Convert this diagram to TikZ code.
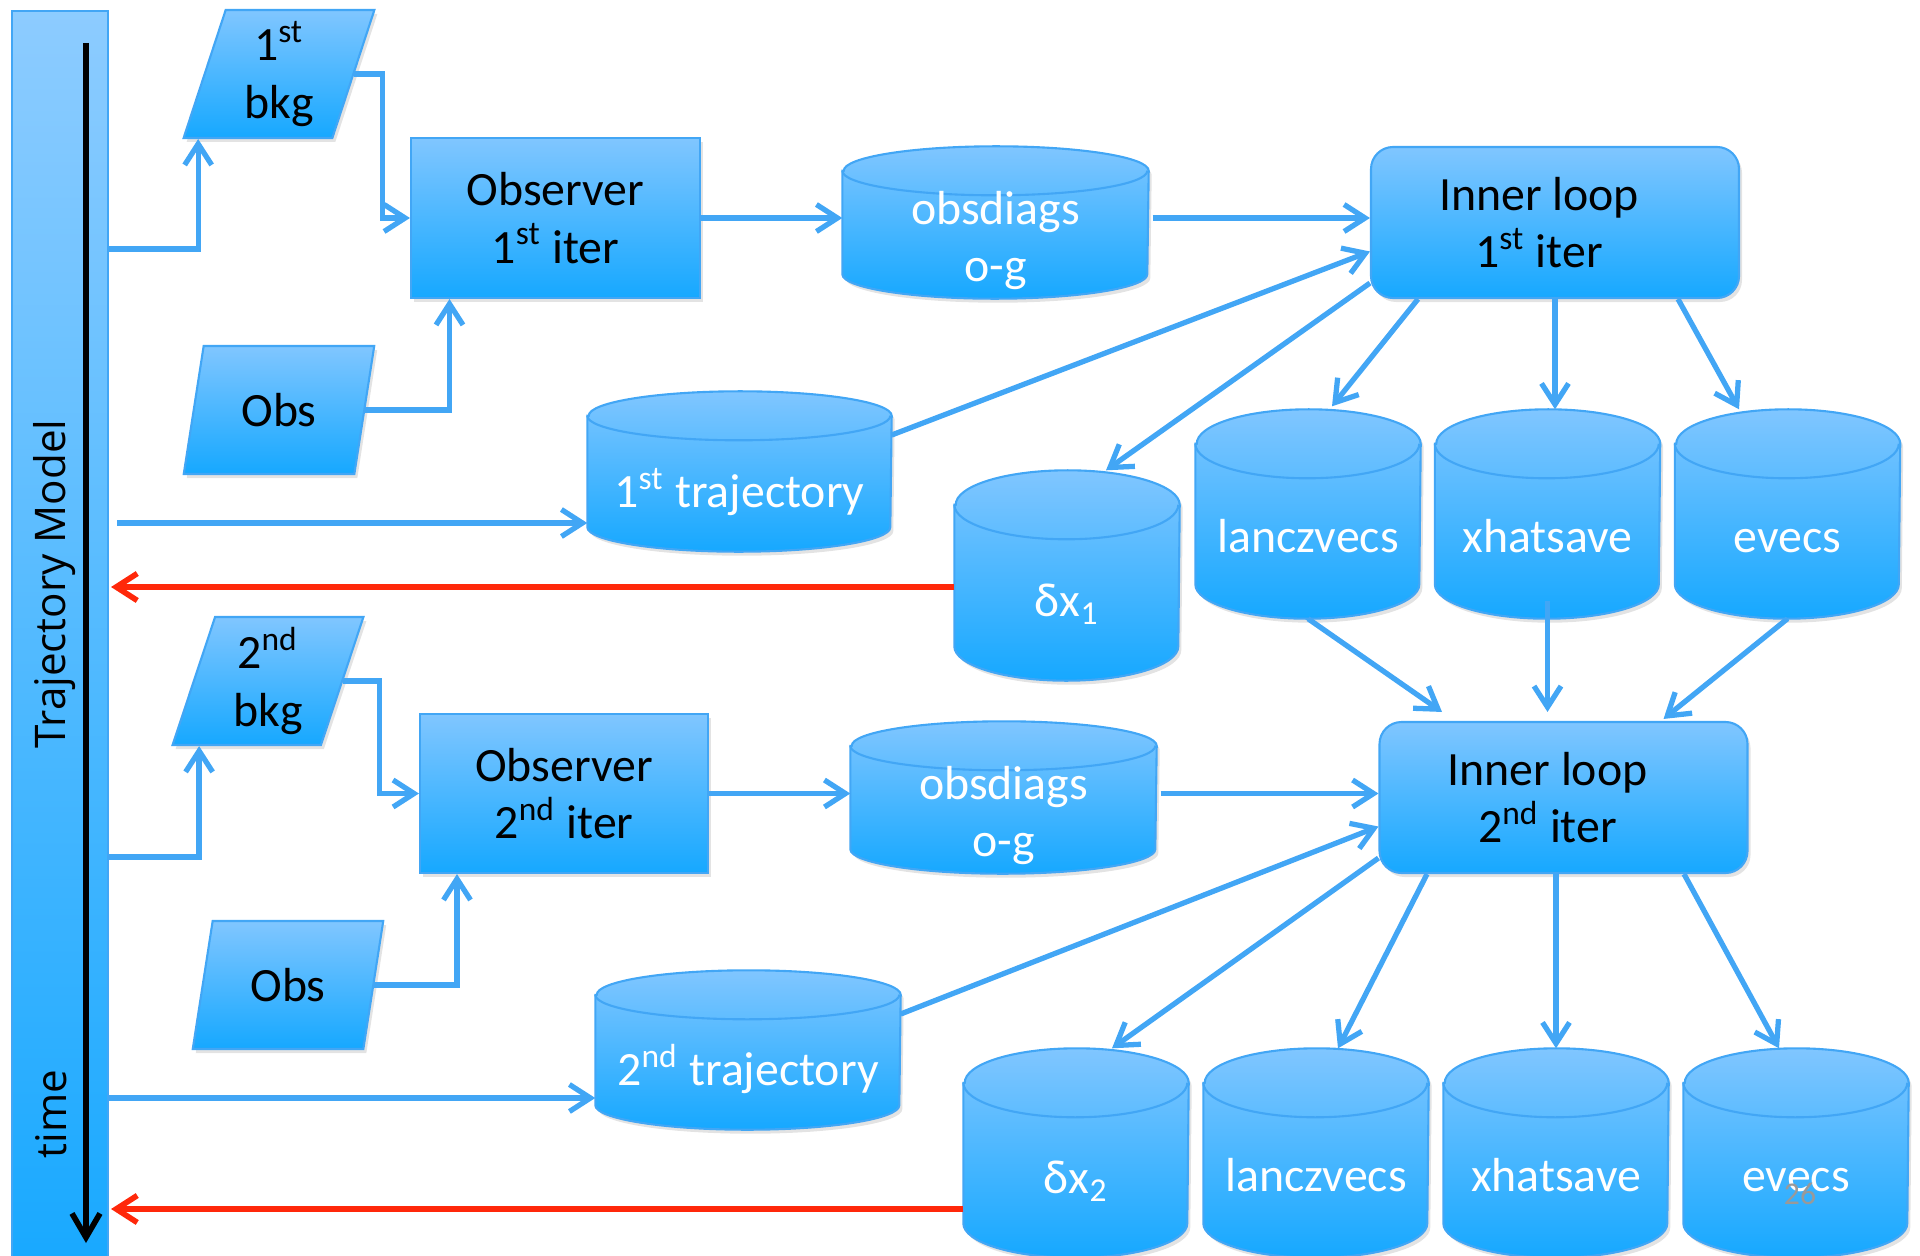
\documentclass[tikz,border=0pt]{standalone}
\usepackage{fontspec}
\setmainfont{Carlito}
\newfontfamily\axisfont{Open Sans}
\usepackage{tikz}
\usetikzlibrary{shapes.geometric,arrows.meta,shadows}

\definecolor{flowtop}{RGB}{128,198,255}
\definecolor{flowbot}{RGB}{22,168,255}
\definecolor{flowline}{RGB}{66,166,245}
\definecolor{backred}{RGB}{255,40,10}

% store drum drawn round a named box: #1 box, #2 half width, #3 end radius
\newcommand\drum[3]{%
  \path[shade] ([yshift=-#3]#1.north west) -- ([yshift=#3]#1.south west)
     arc[start angle=180, end angle=360, x radius=#2, y radius=#3]
     -- ([yshift=-#3]#1.north east)
     arc[start angle=0, end angle=180, x radius=#2, y radius=#3] -- cycle;
  \draw[draw=flowline, line width=0.6pt] ([yshift=-#3]#1.north west)
     arc[start angle=180, end angle=360, x radius=#2, y radius=#3];
}
% pushes a centred line a little to the left
\newcommand\lpad{\hspace*{0.32cm}}

\begin{document}
\begin{tikzpicture}[
    shade/.style={top color=flowtop, bottom color=flowbot, draw=flowline, line width=0.6pt,
        drop shadow={opacity=0.22, shadow xshift=0.03cm, shadow yshift=-0.04cm}},
    txt/.style={font=\fontsize{13.6}{16.4}\selectfont, align=center, inner sep=1pt},
    box/.style={shade, txt, rectangle, minimum width=2.89cm, minimum height=1.6cm},
    loopbox/.style={shade, txt, rectangle, rounded corners=0.22cm, minimum width=3.68cm, minimum height=1.51cm},
    inbox/.style={shade, txt, trapezium, trapezium left angle=75, trapezium right angle=105,
        trapezium stretches=true, minimum width=1.91cm, minimum height=1.28cm},
    store/.style={rectangle, inner sep=0pt},
    flat/.style={store, minimum width=3.05cm, minimum height=1.51cm},
    tall/.style={store, minimum width=2.24cm, minimum height=2.08cm},
    storetxt/.style={txt, text=white},
    oneline/.style={storetxt, text height=1.75ex, text depth=0.45ex},
    flow/.style={draw=flowline, line width=1.5pt, -{Straight Barb[length=2.1mm,width=2.7mm]}},
    back/.style={draw=backred, line width=1.6pt, -{Straight Barb[length=2.1mm,width=2.7mm]}}
]
\useasboundingbox (0,0) rectangle (19.2,-12.56);
\clip (0,0) rectangle (19.2,-12.56);

% trajectory model column
\node[top color=flowtop!90, bottom color=flowbot, draw=flowline, line width=0.6pt,
      minimum width=0.96cm, minimum height=12.8cm, inner sep=0pt] (model) at (0.60,-6.51) {};
\draw[line width=1.6pt, -{Straight Barb[length=2.4mm,width=2.8mm]}] (0.86,-0.43) -- (0.86,-12.43);
\node[rotate=90, font=\axisfont\fontsize{12}{14}\selectfont] (modeltxt) at (0.55,-5.84) {Trajectory Model};
\node[rotate=90, font=\axisfont\fontsize{12}{14}\selectfont] (timetxt) at (0.51,-11.14) {time};

% first outer iteration
\node[inbox] (bkgA) at (2.79,-0.74) {1\textsuperscript{st}\\bkg};
\node[inbox] (obsA) at (2.79,-4.10) {Obs};
\node[box] (obsvA) at (5.555,-2.18) {Observer\\1\textsuperscript{st} iter};
\node[flat] (diagA) at (9.955,-2.225) {};
\node[loopbox] (innerA) at (15.55,-2.225) {Inner loop\lpad\\1\textsuperscript{st} iter\lpad};
\node[flat, minimum width=3.03cm, minimum height=1.59cm] (trajA) at (7.395,-4.715) {};
\node[tall, minimum height=2.09cm] (dxA) at (10.67,-5.755) {};
\node[tall] (lanA) at (13.08,-5.14) {};
\node[tall] (xhA) at (15.475,-5.14) {};
\node[tall] (evA) at (17.875,-5.14) {};

% second outer iteration
\node[inbox] (bkgB) at (2.68,-6.81) {2\textsuperscript{nd}\\bkg};
\node[inbox] (obsB) at (2.88,-9.85) {Obs};
\node[box, minimum width=2.88cm, minimum height=1.59cm] (obsvB) at (5.64,-7.935) {Observer\\2\textsuperscript{nd} iter};
\node[flat] (diagB) at (10.035,-7.975) {};
\node[loopbox] (innerB) at (15.635,-7.975) {Inner loop\lpad\\2\textsuperscript{nd} iter\lpad};
\node[flat, minimum width=3.04cm, minimum height=1.58cm] (trajB) at (7.48,-10.50) {};
\node[tall] (dxB) at (10.76,-11.53) {};
\node[tall] (lanB) at (13.16,-11.53) {};
\node[tall] (xhB) at (15.56,-11.53) {};
\node[tall] (evB) at (17.96,-11.53) {};

% the drums and what they hold
\foreach \s/\w in {diagA/1.525cm, diagB/1.525cm, trajA/1.515cm, trajB/1.52cm}
  \drum{\s}{\w}{0.245cm};
\foreach \s in {dxA, lanA, xhA, evA, dxB, lanB, xhB, evB}
  \drum{\s}{1.12cm}{0.345cm};
\node[storetxt] (diagA-t) at ([yshift=-0.18cm]diagA.center) {obsdiags\\o-g};
\node[oneline] (trajA-t) at ([yshift=-0.25cm]trajA.center) {1\textsuperscript{st} trajectory};
\node[oneline] (dxA-t) at ([yshift=-0.30cm]dxA.center) {δx\textsubscript{1}};
\node[oneline] (lanA-t) at ([yshift=-0.28cm]lanA.center) {lanczvecs};
\node[oneline] (xhA-t) at ([yshift=-0.28cm]xhA.center) {xhatsave};
\node[oneline] (evA-t) at ([yshift=-0.28cm]evA.center) {evecs};
\node[storetxt] (diagB-t) at ([yshift=-0.18cm]diagB.center) {obsdiags\\o-g};
\node[oneline] (trajB-t) at ([yshift=-0.25cm]trajB.center) {2\textsuperscript{nd} trajectory};
\node[oneline] (dxB-t) at ([yshift=-0.30cm]dxB.center) {δx\textsubscript{2}};
\node[oneline] (lanB-t) at ([yshift=-0.28cm]lanB.center) {lanczvecs};
\node[oneline] (xhB-t) at ([yshift=-0.28cm]xhB.center) {xhatsave};
\node[oneline] (evB-t) at ([yshift=-0.28cm]evB.center) {evecs};
\node[font=\fontsize{9}{10}\selectfont, text=black!40] (page) at (18.0,-11.94) {26};

% inputs of the first observer
\draw[flow] (model.east |- 0,-2.49) -| ([xshift=0.16cm]bkgA.bottom left corner);
\draw[flow] (bkgA.east) -- ++(0.28,0) |- (obsvA.west);
\draw[flow] (obsA.east) -| ([xshift=-1.06cm]obsvA.south);
\draw[flow] (obsvA.east) -- (obsvA.east -| diagA.west);
\draw[flow] ([xshift=0.04cm]diagA.east |- obsvA.east) -- (innerA.west |- obsvA.east);
\draw[flow] ([xshift=0.08cm]model.east |- 0,-5.23) -- (trajA.west |- 0,-5.23);
\draw[flow] ([yshift=0.365cm]trajA.east) -- ([yshift=-0.29cm]innerA.west);

% first inner loop
\draw[flow] ([yshift=0.16cm]innerA.south west) -- ([xshift=0.39cm]dxA.north);
\draw[flow] ([xshift=-1.37cm]innerA.south) -- ([xshift=0.24cm,yshift=0.03cm]lanA.north);
\draw[flow] (innerA.south) -- (innerA.south |- xhA.north);
\draw[flow] ([xshift=1.23cm]innerA.south) -- ([xshift=-0.485cm]evA.north);
\draw[back] (dxA.west |- 0,-5.87) -- ([xshift=0.02cm]model.east |- 0,-5.87);

% saved vectors feed the second inner loop
\draw[flow] (lanA.south) -- ([xshift=-1.215cm,yshift=0.09cm]innerB.north);
\draw[flow] ([yshift=0.18cm]xhA.south) -- ([yshift=0.09cm]xhA.south |- innerB.north);
\draw[flow] (evA.south) -- ([xshift=1.0cm,yshift=0.02cm]innerB.north);

% inputs of the second observer
\draw[flow] (model.east |- 0,-8.57) -| ([xshift=0.28cm]bkgB.bottom left corner);
\draw[flow] (bkgB.east) -- ++(0.36,0) |- (obsvB.west);
\draw[flow] (obsB.east) -| ([xshift=-1.07cm]obsvB.south);
\draw[flow] (obsvB.east) -- (obsvB.east -| diagB.west);
\draw[flow] ([xshift=0.04cm]diagB.east |- obsvB.east) -- (innerB.west |- obsvB.east);
\draw[flow] (model.east |- 0,-10.98) -- (trajB.west |- 0,-10.98);
\draw[flow] ([yshift=0.36cm]trajB.east) -- ([yshift=-0.29cm]innerB.west);

% second inner loop
\draw[flow] ([yshift=0.16cm]innerB.south west) -- ([xshift=0.36cm]dxB.north);
\draw[flow] ([xshift=-1.365cm]innerB.south) -- ([xshift=0.22cm]lanB.north);
\draw[flow] (xhB.north |- innerB.south) -- (xhB.north);
\draw[flow] ([xshift=1.205cm]innerB.south) -- ([xshift=-0.17cm]evB.north);
\draw[back] (dxB.west |- 0,-12.09) -- ([xshift=0.02cm]model.east |- 0,-12.09);
\end{tikzpicture}
\end{document}
